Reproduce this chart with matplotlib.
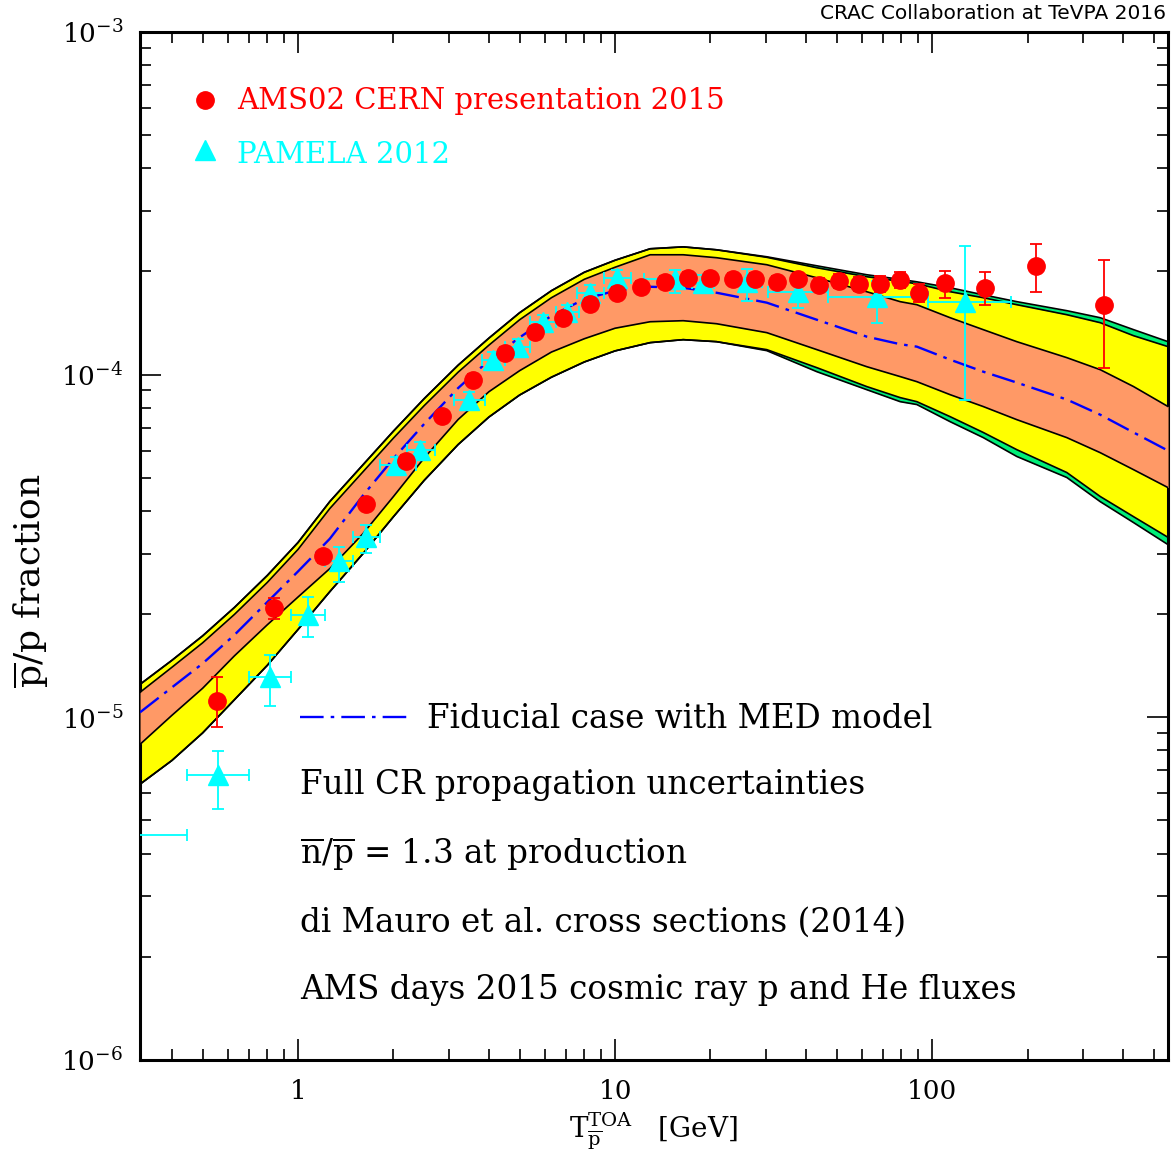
import matplotlib
matplotlib.use("Agg")
import matplotlib.pyplot as plt
import matplotlib.ticker as ticker

plt.rcParams['font.family'] = ['DejaVu Serif']
plt.rcParams['mathtext.fontset'] = 'dejavuserif'

# model bands (energy grid in GeV, p-bar/p fraction)
grid_E = [0.3175, 0.4, 0.5, 0.63, 0.8, 1.0, 1.26, 1.6, 2.0, 2.5, 3.2, 4.0, 5.0, 6.3, 8.0, 10.0,
          12.9, 16.4, 20.9, 30.1, 43.3, 62.2, 79.3, 89.5, 114, 145, 185, 266, 339, 432, 555]
green_hi = [1.248e-5, 1.466e-5, 1.728e-5, 2.092e-5, 2.594e-5, 3.237e-5, 4.264e-5, 5.447e-5, 6.843e-5,
            8.511e-5, 1.066e-4, 1.278e-4, 1.516e-4, 1.758e-4, 1.990e-4, 2.157e-4, 2.33e-4, 2.36e-4,
            2.314e-4, 2.208e-4, 2.078e-4, 1.957e-4, 1.897e-4, 1.866e-4, 1.793e-4, 1.710e-4, 1.633e-4,
            1.537e-4, 1.466e-4, 1.353e-4, 1.248e-4]
yellow_hi = [1.248e-5, 1.466e-5, 1.728e-5, 2.092e-5, 2.594e-5, 3.237e-5, 4.264e-5, 5.447e-5, 6.843e-5,
             8.511e-5, 1.066e-4, 1.278e-4, 1.516e-4, 1.758e-4, 1.990e-4, 2.157e-4, 2.33e-4, 2.36e-4,
             2.314e-4, 2.20e-4, 2.051e-4, 1.931e-4, 1.872e-4, 1.842e-4, 1.746e-4, 1.677e-4, 1.600e-4,
             1.496e-4, 1.418e-4, 1.299e-4, 1.207e-4]
salmon_hi = [1.183e-5, 1.399e-5, 1.649e-5, 1.996e-5, 2.475e-5, 3.090e-5, 4.068e-5, 5.196e-5, 6.53e-5,
             8.12e-5, 1.017e-4, 1.219e-4, 1.446e-4, 1.677e-4, 1.898e-4, 2.058e-4, 2.238e-4, 2.238e-4,
             2.194e-4, 2.093e-4, 1.917e-4, 1.746e-4, 1.633e-4, 1.600e-4, 1.466e-4, 1.353e-4, 1.248e-4,
             1.121e-4, 1.034e-4, 9.23e-5, 8.07e-5]
fiducial = [1.034e-5, 1.222e-5, 1.435e-5, 1.739e-5, 2.169e-5, 2.665e-5, 3.32e-5, 4.43e-5, 5.69e-5,
            7.18e-5, 9.14e-5, 1.100e-4, 1.284e-4, 1.485e-4, 1.662e-4, 1.756e-4, 1.805e-4, 1.793e-4,
            1.734e-4, 1.622e-4, 1.446e-4, 1.291e-4, 1.227e-4, 1.207e-4, 1.106e-4, 1.020e-4, 9.48e-5,
            8.46e-5, 7.64e-5, 6.78e-5, 6.0e-5]
salmon_lo = [8.34e-6, 1.013e-5, 1.215e-5, 1.511e-5, 1.862e-5, 2.244e-5, 2.717e-5, 3.428e-5, 4.409e-5,
             5.712e-5, 7.40e-5, 8.915e-5, 1.027e-4, 1.164e-4, 1.273e-4, 1.366e-4, 1.427e-4, 1.437e-4,
             1.408e-4, 1.326e-4, 1.183e-4, 1.055e-4, 9.87e-5, 9.54e-5, 8.74e-5, 8.07e-5, 7.39e-5,
             6.55e-5, 5.92e-5, 5.28e-5, 4.68e-5]
yellow_lo = [6.38e-6, 7.48e-6, 9.00e-6, 1.125e-5, 1.418e-5, 1.804e-5, 2.327e-5, 2.997e-5, 3.85e-5,
             4.914e-5, 6.254e-5, 7.52e-5, 8.72e-5, 9.83e-5, 1.089e-4, 1.173e-4, 1.240e-4, 1.265e-4,
             1.248e-4, 1.183e-4, 1.048e-4, 9.23e-5, 8.57e-5, 8.34e-5, 7.54e-5, 6.78e-5, 6.04e-5,
             5.18e-5, 4.41e-5, 3.85e-5, 3.35e-5]
green_lo = [6.38e-6, 7.48e-6, 9.00e-6, 1.125e-5, 1.418e-5, 1.804e-5, 2.327e-5, 2.997e-5, 3.85e-5,
            4.914e-5, 6.254e-5, 7.52e-5, 8.72e-5, 9.83e-5, 1.089e-4, 1.173e-4, 1.240e-4, 1.265e-4,
            1.248e-4, 1.175e-4, 1.020e-4, 9.04e-5, 8.34e-5, 8.18e-5, 7.29e-5, 6.55e-5, 5.77e-5,
            5.01e-5, 4.26e-5, 3.70e-5, 3.19e-5]

# AMS02 data
ams_E = [0.555, 0.840, 1.199, 1.639, 2.191, 2.847, 3.565, 4.498, 5.592, 6.855, 8.339, 10.15, 12.08,
         14.38, 16.99, 19.94, 23.56, 27.65, 32.44, 37.78, 44.01, 50.89, 58.86, 68.55, 79.28, 91.0,
         109.9, 147.0, 212.9, 348.8]
ams_ratio = [1.113e-5, 2.078e-5, 2.947e-5, 4.206e-5, 5.614e-5, 7.597e-5, 9.67e-5, 1.159e-4, 1.335e-4,
             1.466e-4, 1.610e-4, 1.734e-4, 1.805e-4, 1.866e-4, 1.917e-4, 1.917e-4, 1.905e-4, 1.905e-4,
             1.866e-4, 1.905e-4, 1.830e-4, 1.879e-4, 1.842e-4, 1.842e-4, 1.892e-4, 1.734e-4, 1.854e-4,
             1.793e-4, 2.078e-4, 1.600e-4]
ams_err_lo = [1.78e-6, 1.48e-6, 1.2e-6, 1.6e-6, 2.0e-6, 2.8e-6, 3.5e-6, 4.2e-6, 5.0e-6, 5.5e-6, 6.0e-6,
              6.5e-6, 7.0e-6, 7.2e-6, 7.5e-6, 7.5e-6, 7.5e-6, 7.6e-6, 7.6e-6, 8.0e-6, 8.0e-6, 8.5e-6,
              9.0e-6, 9.5e-6, 1.0e-5, 1.1e-5, 1.77e-5, 1.93e-5, 3.32e-5, 5.52e-5]
ams_err_hi = [1.95e-6, 1.45e-6, 1.2e-6, 1.6e-6, 2.0e-6, 2.8e-6, 3.5e-6, 4.2e-6, 5.0e-6, 5.5e-6, 6.0e-6,
              6.5e-6, 7.0e-6, 7.2e-6, 7.5e-6, 7.5e-6, 7.5e-6, 7.6e-6, 7.6e-6, 8.0e-6, 8.0e-6, 8.5e-6,
              9.0e-6, 9.5e-6, 1.0e-5, 1.1e-5, 1.55e-5, 2.03e-5, 3.31e-5, 5.64e-5]

# PAMELA data
pam_E = [0.28, 0.559, 0.816, 1.075, 1.347, 1.639, 2.038, 2.426, 3.463, 4.122, 4.943, 5.93, 7.06,
         8.339, 10.15, 15.46, 18.95, 26.09, 37.78, 67.06, 127.1]
pam_E_lo = [0.22, 0.447, 0.700, 0.950, 1.217, 1.491, 1.814, 2.2, 3.1, 3.8, 4.5, 5.4, 6.5, 7.6, 9.2,
            12.3, 17.5, 23.5, 30.4, 46.9, 97.1]
pam_E_hi = [0.447, 0.700, 0.950, 1.217, 1.491, 1.814, 2.35, 2.7, 3.9, 4.5, 5.4, 6.5, 7.7, 9.2, 11.2,
            18.0, 20.5, 29.0, 46.9, 97.1, 177.5]
pam_ratio = [4.53e-6, 6.78e-6, 1.309e-5, 1.983e-5, 2.85e-5, 3.37e-5, 5.465e-5, 6.04e-5, 8.46e-5,
             1.106e-4, 1.207e-4, 1.427e-4, 1.52e-4, 1.734e-4, 1.917e-4, 1.905e-4, 1.854e-4, 1.866e-4,
             1.746e-4, 1.688e-4, 1.633e-4]
pam_err_lo = [6.8e-7, 1.39e-6, 2.33e-6, 2.72e-6, 3.6e-6, 3.6e-6, 2.7e-6, 3.0e-6, 4.2e-6, 5.5e-6,
              6.0e-6, 7.0e-6, 8.0e-6, 9.0e-6, 1.0e-5, 1.71e-5, 1.0e-5, 2.23e-5, 1.78e-5, 2.70e-5, 7.87e-5]
pam_err_hi = [6.8e-7, 1.18e-6, 2.08e-6, 2.56e-6, 2.8e-6, 2.8e-6, 2.7e-6, 3.0e-6, 4.2e-6, 5.5e-6,
              6.0e-6, 7.0e-6, 8.0e-6, 9.0e-6, 1.0e-5, 1.17e-5, 1.0e-5, 1.71e-5, 1.71e-5, 1.91e-5, 7.44e-5]

fig = plt.figure(figsize=(11.71, 11.55), dpi=100)
ax = fig.add_axes([0.1196, 0.0823, 0.8779, 0.8900])
ax.set_xscale('log')
ax.set_yscale('log')
ax.set_xlim(0.3175, 555)
ax.set_ylim(1e-6, 1e-3)

# bands
ax.fill_between(grid_E, green_lo, green_hi, color='#00EE77', lw=0, zorder=1)
ax.fill_between(grid_E, yellow_lo, yellow_hi, color='#FFFF00', lw=0, zorder=2)
ax.fill_between(grid_E, salmon_lo, salmon_hi, color='#FF9966', lw=0, zorder=3)
for curve in [green_hi, yellow_hi, salmon_hi, salmon_lo, yellow_lo, green_lo]:
    ax.plot(grid_E, curve, color='black', lw=1.2, zorder=4)
ax.plot(grid_E, fiducial, color='blue', lw=1.7, dashes=(10, 3, 1.5, 3), zorder=5)

# data
pam_xerr = [[e - lo for e, lo in zip(pam_E, pam_E_lo)], [hi - e for e, hi in zip(pam_E, pam_E_hi)]]
ax.errorbar(pam_E, pam_ratio, yerr=[pam_err_lo, pam_err_hi], xerr=pam_xerr, fmt='^', color='cyan',
            ms=14, elinewidth=1.3, capsize=4, capthick=1.3, zorder=6)
ax.errorbar(ams_E, ams_ratio, yerr=[ams_err_lo, ams_err_hi], fmt='o', color='red',
            ms=12.5, elinewidth=1.3, capsize=4, capthick=1.3, zorder=7)

# axes styling
for sp in ax.spines.values():
    sp.set_linewidth(2.2)
ax.tick_params(which='both', direction='in', top=True, right=True, width=1.2)
ax.tick_params(which='major', length=15, labelsize=19)
ax.tick_params(which='minor', length=8)
ax.tick_params(axis='x', which='major', pad=14)
ax.tick_params(axis='y', which='major', pad=12)
ax.xaxis.set_major_locator(ticker.FixedLocator([1, 10, 100]))
ax.xaxis.set_major_formatter(ticker.FuncFormatter(lambda v, p: f'{v:g}'))
ax.xaxis.set_minor_locator(ticker.LogLocator(base=10, subs=range(2, 10), numticks=20))
ax.xaxis.set_minor_formatter(ticker.NullFormatter())
ax.yaxis.set_major_locator(ticker.LogLocator(base=10, numticks=10))
ax.yaxis.set_minor_locator(ticker.LogLocator(base=10, subs=range(2, 10), numticks=20))
ax.yaxis.set_minor_formatter(ticker.NullFormatter())

# data legend
ax.plot([0.0632], [0.9339], 'o', color='red', ms=12.5, transform=ax.transAxes, clip_on=False)
ax.text(0.0944, 0.9251, 'AMS02 CERN presentation 2015', color='red', fontsize=21,
        transform=ax.transAxes, va='baseline')
ax.plot([0.0632], [0.8850], '^', color='cyan', ms=14, transform=ax.transAxes, clip_on=False)
ax.text(0.0944, 0.8726, 'PAMELA 2012', color='cyan', fontsize=21,
        transform=ax.transAxes, va='baseline')

# model notes
ax.plot([0.1556, 0.2626], [0.3337, 0.3337], color='blue', lw=1.7, dashes=(10, 3, 1.5, 3),
        transform=ax.transAxes)
notes = [(0.2792, 0.3230, 'Fiducial case with MED model'),
         (0.1556, 0.2588, 'Full CR propagation uncertainties'),
         (0.1556, 0.1907, r'$\overline{\mathrm{n}}/\overline{\mathrm{p}}$ = 1.3 at production'),
         (0.1556, 0.1245, 'di Mauro et al. cross sections (2014)'),
         (0.1556, 0.0593, 'AMS days 2015 cosmic ray p and He fluxes')]
for tx, ty, s in notes:
    ax.text(tx, ty, s, fontsize=23.5, transform=ax.transAxes, va='baseline')

fig.text(0.027, 0.497, r'$\overline{\mathrm{p}}$/p fraction', rotation=90, fontsize=26,
         ha='center', va='center')
fig.text(0.558, 0.020, r'$\mathrm{T}_{\overline{\mathrm{p}}}^{\mathrm{TOA}}$   [GeV]', fontsize=20,
         ha='center', va='center')
fig.text(0.996, 0.988, 'CRAC Collaboration at TeVPA 2016', fontsize=14.5, ha='right', va='center',
         family='DejaVu Sans')

fig.savefig('out.png', dpi=100)
